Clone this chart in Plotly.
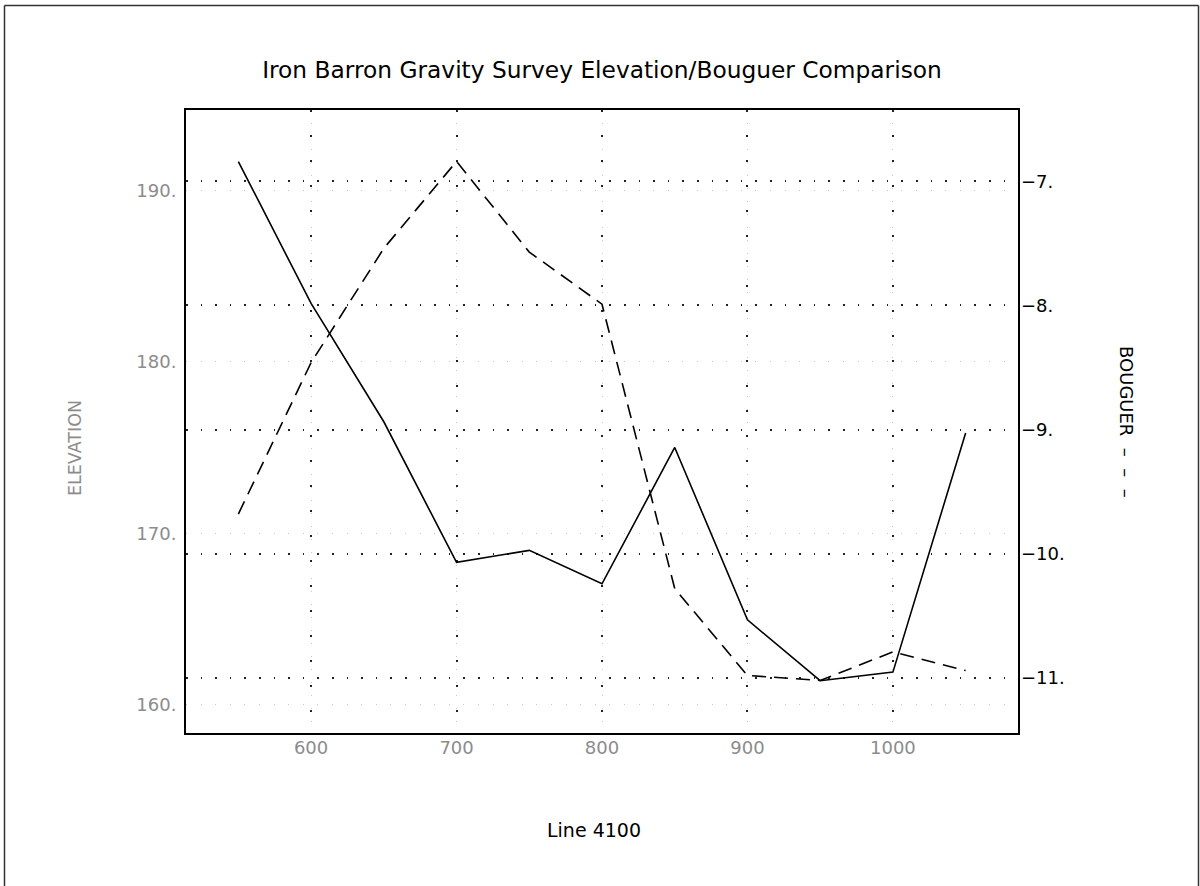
import plotly.graph_objects as go

# ---- data ----
stations = [550, 600, 650, 700, 750, 800, 850, 900, 950, 1000, 1050]
elevation = [191.67, 183.4, 176.5, 168.3, 169.0, 167.05, 175.0, 164.95, 161.4, 161.9, 175.85]
bouguer = [-9.68, -8.46, -7.54, -6.84, -7.57, -7.99, -10.28, -10.98, -11.02, -10.79, -10.94]
x_ticks = [600, 700, 800, 900, 1000]
elev_ticks = [160, 170, 180, 190]
boug_ticks = [-11, -10, -9, -8, -7]

elev_ticktext = [f"{v}." for v in elev_ticks]
boug_ticktext = [f"\u2212{abs(v)}." for v in boug_ticks]

title_text = "Iron Barron Gravity Survey Elevation/Bouguer Comparison"
x_title = "Line 4100"
y_title = "ELEVATION"
y2_title = "BOUGUER\u00a0\u00a0\u2013\u00a0\u00a0\u2013\u00a0\u00a0\u2013"

W, H = 1200, 886
L, R, T, B = 186, 182, 110, 153
PW, PH = W - L - R, H - T - B

x_range = [514, 1086]
elev_range = [158.35, 194.68]
boug_range = [-11.443, -6.426]

FONT = "DejaVu Sans"
GREY = "#8c8c8c"


def px_x(p):
    return (p - L) / PW


def px_y(p):
    return (H - B - p) / PH


fig = go.Figure()
fig.add_trace(go.Scatter(
    x=stations, y=elevation, mode="lines",
    line=dict(color="black", width=1.6),
    xaxis="x", yaxis="y", showlegend=False,
))
fig.add_trace(go.Scatter(
    x=stations, y=bouguer, mode="lines",
    line=dict(color="black", width=1.6, dash="14px,8px"),
    xaxis="x2", yaxis="y2", showlegend=False,
))

fig.update_layout(
    width=W, height=H,
    margin=dict(l=L, r=R, t=T, b=B),
    paper_bgcolor="white", plot_bgcolor="white",
    font=dict(family=FONT),
    title=dict(
        text=title_text, x=0.5, xanchor="center", xref="paper",
        y=1 - 70 / H, yanchor="middle", yref="container",
        font=dict(family=FONT, size=23.3, color="black"),
    ),
    xaxis=dict(
        range=x_range, tickvals=x_ticks, ticks="",
        showgrid=True, gridcolor="#c8c8c8", gridwidth=1, griddash="1px,12px",
        showline=True, linecolor="black", linewidth=2, mirror=True,
        tickfont=dict(family=FONT, size=18, color=GREY),
        ticklabelstandoff=-3, zeroline=False,
    ),
    xaxis2=dict(
        range=x_range, overlaying="x", tickvals=x_ticks, showticklabels=False, ticks="",
        showgrid=True, gridcolor="#222", gridwidth=1.5, griddash="1.5px,23.5px",
        showline=False, zeroline=False,
    ),
    yaxis=dict(
        range=elev_range, tickvals=elev_ticks, ticktext=elev_ticktext, ticks="",
        showgrid=True, gridcolor="#c8c8c8", gridwidth=1, griddash="1px,13.6px",
        showline=True, linecolor="black", linewidth=2, mirror=True,
        tickfont=dict(family=FONT, size=18, color=GREY),
        ticklabelstandoff=4, zeroline=False,
    ),
    yaxis2=dict(
        range=boug_range, tickvals=boug_ticks, ticktext=boug_ticktext, ticks="",
        overlaying="y", side="right", anchor="x2",
        showgrid=True, gridcolor="#222", gridwidth=1.5, griddash="1.5px,13.1px",
        showline=False, zeroline=False,
        tickfont=dict(family=FONT, size=18, color="black"),
        ticklabelstandoff=2,
    ),
    annotations=[
        dict(text=x_title, x=px_x(594), y=px_y(830), xref="paper", yref="paper",
             showarrow=False, xanchor="center", yanchor="middle",
             font=dict(family=FONT, size=19, color="black")),
        dict(text=y_title, x=px_x(75), y=px_y(448), xref="paper", yref="paper",
             showarrow=False, xanchor="center", yanchor="middle", textangle=-90,
             font=dict(family=FONT, size=17.5, color=GREY)),
        dict(text=y2_title, x=px_x(1127), y=px_y(422), xref="paper", yref="paper",
             showarrow=False, xanchor="center", yanchor="middle", textangle=90,
             font=dict(family=FONT, size=18, color="black")),
    ],
    shapes=[
        dict(type="line", xref="paper", yref="paper", x0=px_x(4.5), x1=px_x(1198.5),
             y0=px_y(5.5), y1=px_y(5.5), line=dict(color="#333", width=1.5)),
        dict(type="line", xref="paper", yref="paper", x0=px_x(4.5), x1=px_x(4.5),
             y0=px_y(5.5), y1=px_y(900), line=dict(color="#333", width=1.5)),
        dict(type="line", xref="paper", yref="paper", x0=px_x(1198.5), x1=px_x(1198.5),
             y0=px_y(5.5), y1=px_y(900), line=dict(color="#333", width=1.5)),
    ],
)

fig.write_html(
    "out.html",
    config={"displayModeBar": False},
    post_script="document.body.style.margin='0';document.body.style.overflow='hidden';",
)
